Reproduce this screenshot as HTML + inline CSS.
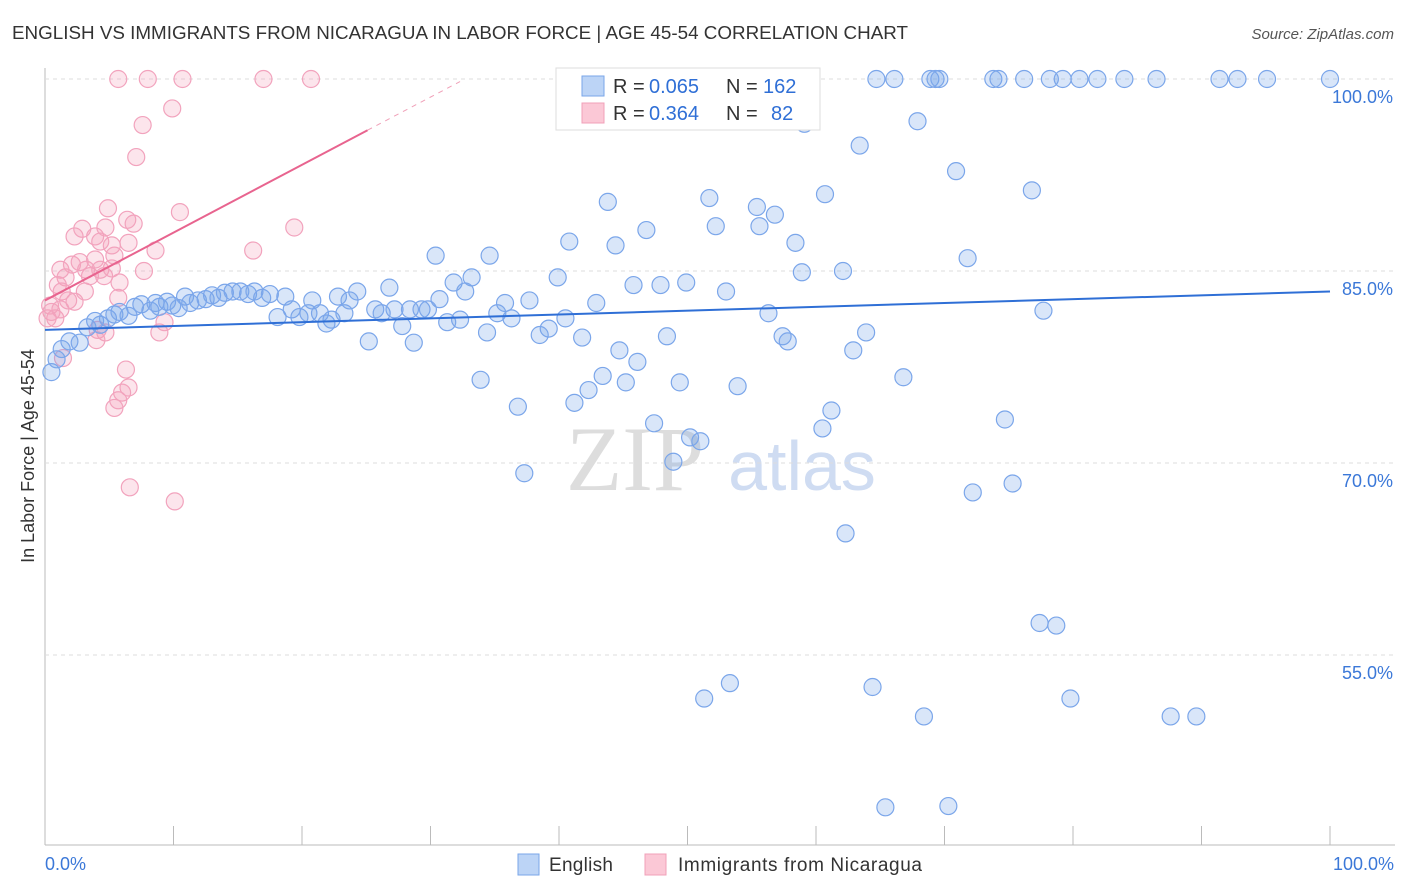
<!DOCTYPE html>
<html><head><meta charset="utf-8"><style>
body{margin:0;background:#fff;font-family:"Liberation Sans",sans-serif;}
#w{position:relative;width:1406px;height:892px;overflow:hidden}
</style></head><body><div id="w">
<svg id="s" width="1406" height="892" xmlns="http://www.w3.org/2000/svg">
<text x="12" y="39" font-size="18" fill="#333" textLength="896" lengthAdjust="spacingAndGlyphs">ENGLISH VS IMMIGRANTS FROM NICARAGUA IN LABOR FORCE | AGE 45-54 CORRELATION CHART</text>
<text x="1394" y="39" font-size="15" fill="#555" font-style="italic" text-anchor="end">Source: ZipAtlas.com</text>
<text x="635" y="490" font-size="92" fill="#ddd" font-family="Liberation Serif,serif" text-anchor="middle">ZIP</text>
<text x="802" y="490" font-size="70" fill="#cfdcf2" text-anchor="middle">atlas</text>
<text transform="translate(34,456) rotate(-90)" font-size="18" fill="#333" text-anchor="middle">In Labor Force | Age 45-54</text>
<g id="grid"></g><g id="pts"></g><g id="trend"></g>
<rect x="556" y="68" width="264" height="62" fill="#fff" stroke="#ddd"/>
<rect x="582" y="76" width="22" height="20" fill="#bcd4f6" stroke="#7aa6e8"/>
<rect x="582" y="103" width="22" height="20" fill="#fbc8d6" stroke="#f0a0b8"/>
<text y="93" font-size="20" fill="#333"><tspan x="613">R = </tspan><tspan x="649" fill="#2f6fd6">0.065</tspan><tspan x="726">N = </tspan><tspan x="763" fill="#2f6fd6">162</tspan></text>
<text y="120" font-size="20" fill="#333"><tspan x="613">R = </tspan><tspan x="649" fill="#2f6fd6">0.364</tspan><tspan x="726">N = </tspan><tspan fill="#2f6fd6" x="771">82</tspan></text>
<rect x="518" y="854" width="21" height="21" fill="#bcd4f6" stroke="#7aa6e8"/>
<text x="549" y="871" font-size="19" fill="#333" textLength="64">English</text>
<rect x="645" y="854" width="21" height="21" fill="#fbc8d6" stroke="#f0a0b8"/>
<text x="678" y="871" font-size="19" fill="#333" textLength="244">Immigrants from Nicaragua</text>
<text x="45" y="870" font-size="18" fill="#3b78d8">0.0%</text>
<text x="1394" y="870" font-size="18" fill="#3b78d8" text-anchor="end">100.0%</text>
</svg></div>
<script>
const yTicks=[100,85,70,55];
const yTickLabels=["100.0%","85.0%","70.0%","55.0%"];
const xTicks=[0,10,20,30,40,50,60,70,80,90,100];
const engX=[64.7,66.1,68.9,69.3,69.6,73.8,74.2,76.2,78.2,79.2,80.5,81.9,84.0,86.5,91.4,92.8,95.1,100,59.1,67.9,63.4,70.9,76.8,60.7,43.8,51.7,55.4,56.8,52.2,55.6,46.8,40.8,44.4,58.4,30.4,34.6,71.8,62.1,58.9,39.9,33.2,45.8,47.9,49.9,31.8,53.0,26.8,24.3,32.7,37.7,35.8,42.9,30.7,56.3,77.7,36.3,35.2,40.5,39.2,38.5,34.4,41.8,48.4,57.4,57.8,63.9,62.9,44.7,25.2,28.7,27.8,33.9,43.4,45.2,42.3,49.4,53.9,66.8,46.1,36.8,41.2,61.2,60.5,74.7,47.4,50.2,51.0,48.9,37.3,72.2,75.3,62.3,77.4,78.7,53.3,51.3,64.4,68.4,79.8,87.6,89.6,65.4,70.3,0.5,0.9,1.3,1.9,2.7,3.3,3.9,4.3,4.9,5.4,5.8,6.5,7.0,7.5,8.2,8.6,8.9,9.5,9.9,10.4,10.9,11.3,11.9,12.5,13.0,13.5,14.0,14.6,15.2,15.8,16.3,16.9,17.5,18.1,18.7,19.2,19.8,20.5,20.8,21.4,21.9,22.3,22.8,23.3,23.7,25.7,26.2,27.2,28.4,29.3,29.8,31.3,32.3];
const engY=[100,100,100,100,100,100,100,100,100,100,100,100,100,100,100,100,100,100,96.5,96.7,94.8,92.8,91.3,91.0,90.4,90.7,90.0,89.4,88.5,88.5,88.2,87.3,87.0,87.2,86.2,86.2,86.0,85.0,84.9,84.5,84.5,83.9,83.9,84.1,84.1,83.4,83.7,83.4,83.4,82.7,82.5,82.5,82.8,81.7,81.9,81.3,81.7,81.3,80.5,80.0,80.2,79.8,79.9,79.9,79.5,80.2,78.8,78.8,79.5,79.4,80.7,76.5,76.8,76.3,75.7,76.3,76.0,76.7,77.9,74.4,74.7,74.1,72.7,73.4,73.1,72.0,71.7,70.1,69.2,67.7,68.4,64.5,57.5,57.3,52.8,51.6,52.5,50.2,51.6,50.2,50.2,43.1,43.2,77.1,78.1,78.9,79.5,79.4,80.6,81.1,80.8,81.3,81.6,81.8,81.5,82.2,82.4,81.9,82.5,82.2,82.6,82.3,82.1,83.0,82.5,82.7,82.8,83.1,82.9,83.3,83.4,83.4,83.2,83.4,82.9,83.2,81.4,83.0,82.0,81.4,81.7,82.7,81.7,80.9,81.2,83.0,81.7,82.7,82.0,81.7,82.0,82.0,82.0,82.0,81.0,81.2];
const nicX=[5.7,8.0,10.7,17.0,20.7,7.6,9.9,7.1,10.5,4.9,6.4,6.9,2.3,2.9,3.9,4.3,4.7,5.2,6.5,16.2,19.4,8.6,7.7,5.4,1.2,1.6,2.1,2.7,3.2,3.5,3.9,4.3,4.6,5.2,5.8,1.0,1.3,1.8,2.3,3.1,0.4,0.5,0.8,0.2,1.2,4.1,4.7,8.9,9.3,5.7,6.3,6.5,6.0,5.7,5.4,1.4,6.6,10.1,4.0];
const nicY=[100,100,100,100,100,96.4,97.7,93.9,89.6,89.9,89.0,88.7,87.7,88.3,87.7,87.3,88.4,87.0,87.2,86.6,88.4,86.6,85.0,86.2,85.1,84.5,85.5,85.7,85.1,84.6,85.9,85.1,84.6,85.2,84.1,83.9,83.4,82.7,82.6,83.4,82.3,81.8,81.3,81.3,82.0,80.4,80.2,80.2,81.0,82.9,77.3,75.9,75.5,74.9,74.3,78.2,68.1,67.0,79.6];
const engTrend=[80.4,83.4];
const nicTrend=[82.7,96.0,99.8];
const nicTrendX=[0,25.1,32.3];
const NS='http://www.w3.org/2000/svg';
const X=v=>45+v*12.85, Y=v=>79+(100-v)*12.8;
function mk(t,a,p){const e=document.createElementNS(NS,t);for(const k in a)e.setAttribute(k,a[k]);p.appendChild(e);return e;}
const g=document.getElementById('grid');
mk('line',{x1:45,y1:68,x2:45,y2:845,stroke:'#bbb'},g);
mk('line',{x1:45,y1:845,x2:1395,y2:845,stroke:'#bbb'},g);
yTicks.forEach((t,i)=>{
 const l=mk('line',{x1:45,y1:Y(t),x2:1395,y2:Y(t),stroke:'#ddd','stroke-dasharray':'4,4'},g);
 
 
 const tx=mk('text',{x:1393,y:Y(t)+24,'font-size':18,fill:'#3b78d8','text-anchor':'end'},g);
 tx.textContent=yTickLabels[i];
 
 
});
xTicks.forEach(t=>{
 const l=mk('line',{x1:X(t),y1:826,x2:X(t),y2:845,stroke:'#bbb'},g);
 
 
});
const p=document.getElementById('pts');
nicX.forEach((x,i)=>{
 const c=mk('circle',{cx:X(x),cy:Y(nicY[i]),r:8.5,fill:'rgba(244,160,188,0.28)',stroke:'#f2a3bd','stroke-width':1.2},p);
 
 
});
engX.forEach((x,i)=>{
 const c=mk('circle',{cx:X(x),cy:Y(engY[i]),r:8.5,fill:'rgba(120,165,235,0.28)',stroke:'#7ba6ea','stroke-width':1.2},p);
 
 
});
const tr=document.getElementById('trend');
const b=mk('line',{x1:X(0),y1:Y(engTrend[0]),x2:X(100),y2:Y(engTrend[1]),stroke:'#2f6fd6','stroke-width':2},tr);


const n1=mk('line',{x1:X(nicTrendX[0]),y1:Y(nicTrend[0]),x2:X(nicTrendX[1]),y2:Y(nicTrend[1]),stroke:'#e8648f','stroke-width':2},tr);


const n2=mk('line',{x1:X(nicTrendX[1]),y1:Y(nicTrend[1]),x2:X(nicTrendX[2]),y2:Y(nicTrend[2]),stroke:'#f0a0b8','stroke-width':1,'stroke-dasharray':'5,5'},tr);


</script></body></html>
